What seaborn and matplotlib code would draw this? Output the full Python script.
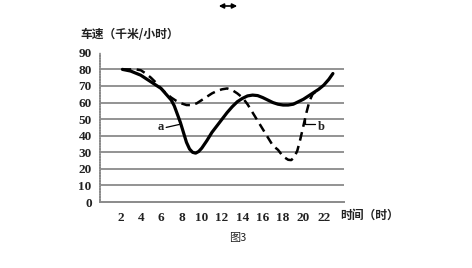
import matplotlib
matplotlib.use("Agg")
import matplotlib.pyplot as plt
import seaborn as sns
import pandas as pd

# ---- data ----
hours_a = [2.2, 3, 4, 5, 5.5, 6, 6.5, 7, 7.3, 7.6, 7.9, 8.2, 8.5, 8.8, 9.1, 9.4, 9.7, 10,
           10.5, 11, 11.5, 12, 12.5, 13, 13.5, 14, 14.5, 15, 15.5, 16, 16.5, 17, 17.5,
           18, 18.5, 19, 19.5, 20, 20.5, 21, 21.5, 22, 22.5, 22.9]
speed_a = [80, 79, 76.5, 72.5, 70.5, 68.5, 65, 61.5, 58, 53, 48, 42, 36, 32, 30, 29.5, 30.5, 32.5,
           37, 42, 46, 50, 54, 57.5, 60.5, 62.5, 64, 64.5, 64.2, 63, 61.5, 60, 59,
           58.5, 58.5, 59, 60.5, 62, 64, 66, 68, 70.5, 74, 77.5]

hours_b = [2.2, 3, 3.5, 4, 4.5, 5, 5.5, 6, 6.5, 7, 7.5, 8, 8.5, 9, 9.5, 10, 10.5, 11, 11.5,
           12, 12.5, 13, 13.5, 14, 14.5, 15, 15.5, 16, 16.5, 17, 17.5, 18, 18.5, 18.8,
           19.1, 19.4, 19.7, 20, 20.3, 20.6, 20.9, 21.2]
speed_b = [80, 80, 80, 79.5, 77.5, 75, 72, 68.5, 65.5, 63, 61, 59.5, 58.5, 58.5, 59.5, 61.5, 63.5,
           65.5, 67, 68, 68.5, 67.5, 65.5, 63, 59, 54, 49, 44, 39, 34, 31.5, 27.5, 25.5, 25.3,
           27, 31, 38, 46, 54, 61, 65, 66.5]

x_ticks = [2, 4, 6, 8, 10, 12, 14, 16, 18, 20, 22]
y_ticks = [0, 10, 20, 30, 40, 50, 60, 70, 80, 90]
y_label = "车速（千米/小时）"
x_label = "时间（时）"
caption = "图3"

sns.set_theme(style="white")
plt.rcParams["font.family"] = ["Noto Sans CJK SC", "DejaVu Sans"]

fig = plt.figure(figsize=(4.72, 2.68), dpi=100)
ax = fig.add_axes([0.212, 0.246, 0.517, 0.557])

df_a = pd.DataFrame({"h": hours_a, "v": speed_a})
df_b = pd.DataFrame({"h": hours_b, "v": speed_b})
sns.lineplot(data=df_a, x="h", y="v", sort=False, ax=ax, color="black", lw=2.3)
sns.lineplot(data=df_b, x="h", y="v", sort=False, ax=ax, color="black", lw=1.8,
             dashes=False)
ax.lines[-1].set_dashes([3.5, 2.2])

for yv in y_ticks[1:-1]:
    ax.axhline(yv, color="#8a8a8a", lw=1.3, zorder=0)

ax.set_xlim(0, 24)
ax.set_ylim(0, 90)
ax.set_xticks(x_ticks + [24])
ax.set_xticklabels([str(t) for t in x_ticks] + [""])
ax.set_yticks(y_ticks)
ax.set_yticklabels([str(t) for t in y_ticks])
ax.set_xlabel("")
ax.set_ylabel("")
for lab in ax.get_xticklabels() + ax.get_yticklabels():
    lab.set_family("Liberation Serif")
    lab.set_fontweight("bold")
    lab.set_fontsize(9.5)
    lab.set_color("#222222")
ax.tick_params(axis="x", direction="in", length=2.5, width=0.8, color="#777777", pad=7)
ax.tick_params(axis="y", direction="out", length=0, pad=6)

for s in ["top", "right"]:
    ax.spines[s].set_visible(False)
ax.spines["left"].set_color("#8a8a8a")
ax.spines["left"].set_linewidth(1.2)
ax.spines["left"].set_linestyle((0, (1, 0.6)))
ax.spines["bottom"].set_color("#8a8a8a")
ax.spines["bottom"].set_linewidth(1.4)

# curve labels
ax.plot([6.5, 7.8], [45, 46.8], color="black", lw=0.9)
ax.text(6.0, 45, "a", family="Liberation Serif", fontweight="bold", fontsize=9,
        ha="center", va="center", color="#222222")
ax.plot([20.2, 20.2, 21.1], [50, 47, 47], color="black", lw=0.9)
ax.text(21.8, 45.5, "b", family="Liberation Serif", fontweight="bold", fontsize=9,
        ha="center", va="center", color="#222222")

fig.text(80 / 472, 1 - 35 / 268, y_label, fontsize=8.5, ha="left", va="center",
         color="#222222", fontweight="bold")
fig.text(340 / 472, 1 - 215 / 268, x_label, fontsize=8.5, ha="left", va="center",
         color="#222222", fontweight="bold")
fig.text(229 / 472, 1 - 238 / 268, caption, fontsize=8, ha="left", va="center",
         color="#222222")

# double-headed arrow at top
fig.add_artist(matplotlib.patches.FancyArrowPatch(
    (216 / 472, 1 - 6 / 268), (240 / 472, 1 - 6 / 268),
    transform=fig.transFigure, arrowstyle="<|-|>", mutation_scale=7,
    color="black", lw=1.2))

fig.savefig("out.png", dpi=100)
